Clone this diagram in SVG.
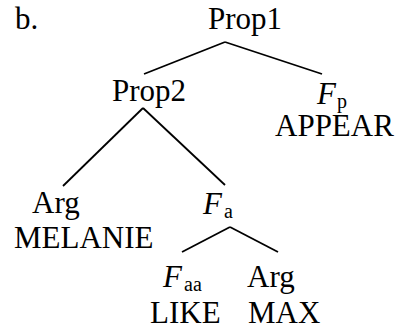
<svg xmlns="http://www.w3.org/2000/svg" width="403" height="329" viewBox="0 0 403 329">
<style>
text{font-family:"Liberation Serif","Times New Roman",serif;font-size:31px;fill:#000}
.i{font-style:italic}
.s{font-size:20px}
.e{stroke:#000;stroke-width:1.8;fill:none}
</style>
<rect width="403" height="329" fill="#fff"/>
<text x="15" y="29">b.</text>
<g id="connectors">
<line class="e" x1="225" y1="42" x2="144" y2="74"/>
<line class="e" x1="225" y1="42" x2="322" y2="74"/>
<line class="e" x1="143" y1="108" x2="63" y2="186"/>
<line class="e" x1="143" y1="108" x2="225" y2="185"/>
<line class="e" x1="230" y1="227" x2="182" y2="252"/>
<line class="e" x1="230" y1="227" x2="278" y2="252"/>
</g>
<g id="prop1"><text x="208" y="29">Prop1</text></g>
<g id="prop2"><text x="112" y="101">Prop2</text></g>
<g id="fp"><text x="317" y="104" class="i">F</text><text x="337" y="108" class="s">p</text><text x="275" y="136">APPEAR</text></g>
<g id="arg1"><text x="32" y="213">Arg</text><text x="14" y="248">MELANIE</text></g>
<g id="fa"><text x="203" y="214" class="i">F</text><text x="224" y="218" class="s">a</text></g>
<g id="faa"><text x="163" y="287" class="i">F</text><text x="184" y="291" class="s">aa</text><text x="150" y="323">LIKE</text></g>
<g id="arg2"><text x="247" y="287">Arg</text><text x="248" y="323">MAX</text></g>
</svg>
